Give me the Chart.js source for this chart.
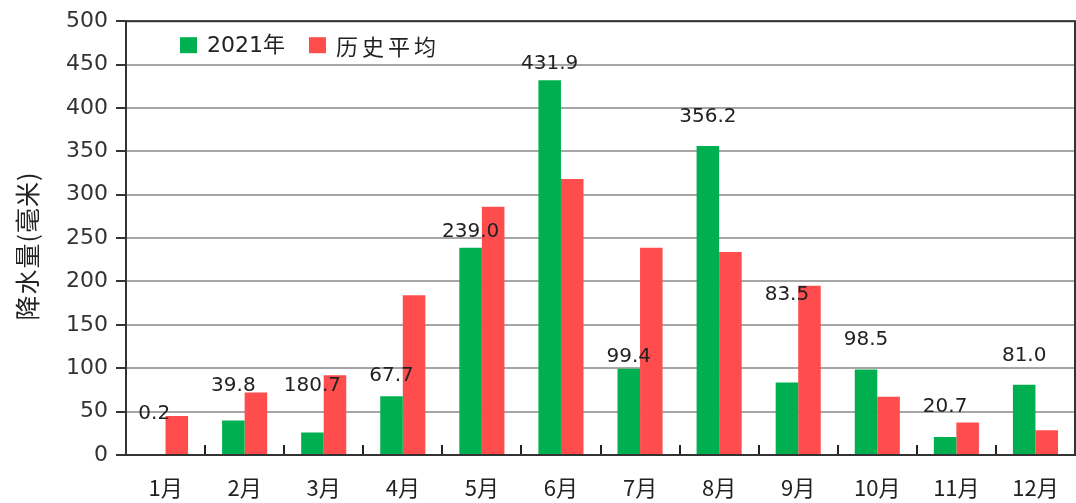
<!DOCTYPE html>
<html>
<head>
<meta charset="utf-8">
<script src="https://cdn.jsdelivr.net/npm/chart.js@4"></script>
<style>
    html, body { margin: 0; padding: 0; background: #fff; }
    #wrap { width: 1076px; height: 503px; }
</style>
</head>
<body>
<div id="wrap"><canvas id="rainChart" width="1076" height="503"></canvas></div>
<script>
// Data
const months = ['1月', '2月', '3月', '4月', '5月', '6月', '7月', '8月', '9月', '10月', '11月', '12月'];
const rain2021 = [0.2, 39.8, 26, 67.7, 239.0, 431.9, 99.4, 356.2, 83.5, 98.5, 20.7, 81.0];
const rainAvg = [45, 72, 92, 184, 286, 318, 239, 234, 195, 67, 37.5, 28.5];
// value labels as printed on the chart, and the height (mm) each one sits at
const labelText = ['0.2', '39.8', '180.7', '67.7', '239.0', '431.9', '99.4', '356.2', '83.5', '98.5', '20.7', '81.0'];
const labelAt = [48, 80, 80, 91, 257, 451, 113, 390, 185, 133, 55, 114];
const yTitle = '降水量(毫米)';

const FONT = '"DejaVu Sans", "Noto Sans CJK SC", sans-serif';
const CJK = '"Noto Sans CJK SC", "DejaVu Sans", sans-serif';

// frame, inner x ticks, value labels, legend and axis title
const extras = {
    id: 'extras',
    afterDraw(chart) {
        const ctx = chart.ctx;
        const area = chart.chartArea;
        const x = chart.scales.x;
        const y = chart.scales.y;
        ctx.save();

        // small ticks between months, pointing up
        ctx.strokeStyle = '#222';
        ctx.lineWidth = 2;
        const half = (x.getPixelForValue(1) - x.getPixelForValue(0)) / 2;
        for (let i = 1; i < months.length; i++) {
            const px = Math.round(x.getPixelForValue(i) - half);
            ctx.beginPath();
            ctx.moveTo(px, area.bottom);
            ctx.lineTo(px, area.bottom - 10);
            ctx.stroke();
        }

        // frame
        ctx.strokeStyle = '#333';
        ctx.lineWidth = 2;
        ctx.strokeRect(area.left, area.top, area.right - area.left, area.bottom - area.top);

        // value labels
        const bars = chart.getDatasetMeta(0).data;
        ctx.fillStyle = '#222';
        ctx.font = '20px ' + FONT;
        ctx.textAlign = 'center';
        ctx.textBaseline = 'middle';
        labelText.forEach(function(t, i) {
            ctx.fillText(t, bars[i].x, y.getPixelForValue(labelAt[i]));
        });

        // legend
        let lx = area.left + 54;
        const ly = area.top + 24;
        chart.data.datasets.forEach(function(ds, i) {
            ctx.fillStyle = ds.backgroundColor;
            ctx.fillRect(lx, ly - 8, 17, 16);
            lx += 27;
            ctx.fillStyle = '#222';
            ctx.textAlign = 'left';
            ctx.font = '22px ' + (i === 0 ? FONT : CJK);
            ctx.letterSpacing = i === 0 ? '0px' : '4px';
            ctx.fillText(ds.label, lx, ly + 1);
            lx += ctx.measureText(ds.label).width + 24;
        });

        // y axis title
        ctx.translate(27, (area.top + area.bottom) / 2 + 8);
        ctx.rotate(-Math.PI / 2);
        ctx.font = '25px ' + CJK;
        ctx.letterSpacing = '1px';
        ctx.textAlign = 'center';
        ctx.fillStyle = '#222';
        ctx.fillText(yTitle, 0, 0);
        ctx.letterSpacing = '0px';
        ctx.restore();
    }
};

const ctx = document.getElementById('rainChart').getContext('2d');
new Chart(ctx, {
    type: 'bar',
    data: {
        labels: months,
        datasets: [{
            label: '2021年',
            data: rain2021,
            backgroundColor: '#00b050',
            barPercentage: 1,
            categoryPercentage: 0.57
        }, {
            label: '历史平均',
            data: rainAvg,
            backgroundColor: '#ff4d4d',
            barPercentage: 1,
            categoryPercentage: 0.57
        }]
    },
    options: {
        responsive: false,
        animation: false,
        layout: {
            padding: { top: 17, right: 1, left: 0, bottom: 0 }
        },
        plugins: {
            legend: { display: false },
            tooltip: { enabled: false }
        },
        scales: {
            x: {
                grid: { display: false },
                border: { color: '#333', width: 2 },
                ticks: {
                    color: '#222',
                    padding: 11,
                    font: { family: CJK, size: 22 }
                },
                afterFit: function(s) { s.height = 48; }
            },
            y: {
                min: 0,
                max: 500,
                ticks: {
                    stepSize: 50,
                    color: '#333',
                    padding: 8,
                    font: { family: FONT, size: 22 }
                },
                grid: {
                    color: '#a6a6a6',
                    lineWidth: 2,
                    tickColor: '#333',
                    tickLength: 10
                },
                border: { color: '#333', width: 2 },
                afterFit: function(s) { s.width = 126; }
            }
        }
    },
    plugins: [extras]
});
</script>
</body>
</html>
